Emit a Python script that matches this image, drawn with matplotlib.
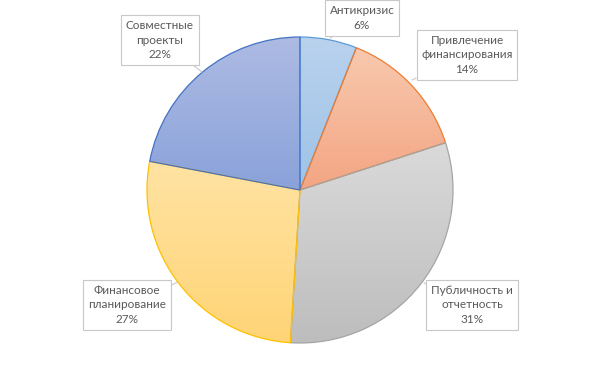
import numpy as np
import matplotlib.pyplot as plt
from matplotlib.colors import LinearSegmentedColormap

labels = ['Антикризис', 'Привлечение\nфинансирования', 'Публичность и\nотчетность',
          'Финансовое\nпланирование', 'Совместные\nпроекты']
values = [6, 14, 31, 27, 22]
top_colors = ['#b9d2ee', '#f8c9ae', '#dadada', '#ffe3a3', '#adbbe3']
bottom_colors = ['#9ec2e6', '#f3a583', '#bdbdbd', '#ffd476', '#8aa2da']
edge_colors = ['#5b9bd5', '#ed7d31', '#a5a5a5', '#ffc000', '#4472c4']
# label box centres and pointer tips (pixel coords, y from top)
box_xy = [(362, 18), (467, 55), (472, 305), (127, 305), (160, 40)]
tip_xy = [(330, 38), (412, 80), (424, 283), (178, 282), (202, 72)]

plt.rcParams['font.family'] = ['Lato', 'DejaVu Sans']

fig = plt.figure(figsize=(6, 3.8), dpi=100)
ax = fig.add_axes([0, 0, 1, 1])

cx, cy, r = 300, 190, 153
wedges, _ = ax.pie(values, center=(cx, cy), radius=r, startangle=90,
                   counterclock=False, frame=True)
ax.set_xlim(0, 600)
ax.set_ylim(0, 380)
ax.axis('off')

grad = np.linspace(0, 1, 256).reshape(-1, 1)
for w, c1, c2, ec in zip(wedges, top_colors, bottom_colors, edge_colors):
    w.set_facecolor('none')
    w.set_edgecolor(ec)
    w.set_linewidth(0.9)
    w.set_zorder(3)
    bb = w.get_path().get_extents(w.get_patch_transform())
    cmap = LinearSegmentedColormap.from_list('g', [c2, c1])
    im = ax.imshow(grad, cmap=cmap, aspect='auto', origin='lower',
                   extent=[bb.x0, bb.x1, bb.y0, bb.y1], zorder=2)
    im.set_clip_path(w)

for lab, v, (bx, by), (tx, ty) in zip(labels, values, box_xy, tip_xy):
    ax.annotate(f'{lab}\n{v}%', xy=(tx, 380 - ty), xytext=(bx, 380 - by),
                ha='center', va='center', fontsize=8.5, color='#595959',
                linespacing=1.4, zorder=5,
                bbox=dict(boxstyle='square,pad=0.4', fc='white', ec='#c8c8c8', lw=0.8),
                arrowprops=dict(arrowstyle='-', color='#c8c8c8', lw=0.8,
                                shrinkA=0, shrinkB=0))

ax.set_xlim(0, 600)
ax.set_ylim(0, 380)
fig.savefig('out.png', dpi=100)
